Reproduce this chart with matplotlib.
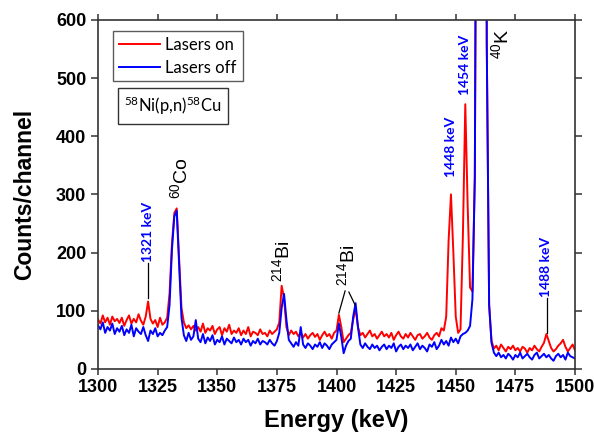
import numpy as np
import matplotlib
matplotlib.use('Agg')
import matplotlib.pyplot as plt

# energia do canal (keV), passo de 1 keV
energia = np.arange(1300, 1501)

# contagens por canal - lasers ligados
lasers_on = [
    85, 78, 92, 80, 88, 76, 90, 82, 86, 79,
    88, 74, 84, 92, 78, 86, 80, 94, 83, 76,
    90, 116, 86, 78, 84, 72, 88, 76, 80, 88,
    130, 215, 268, 276, 190, 105, 80, 70, 75, 68,
    74, 66, 72, 64, 78, 62, 70, 66, 74, 60,
    68, 72, 58, 70, 64, 76, 60, 66, 62, 70,
    58, 66, 60, 72, 56, 64, 62, 58, 68, 60,
    62, 56, 66, 60, 64, 68, 80, 143, 122, 72,
    58, 66, 60, 64, 56, 62, 54, 60, 52, 58,
    62, 55, 60, 50, 58, 64, 56, 60, 52, 62,
    66, 93, 72, 46, 52, 58, 62, 85, 104, 72,
    58, 62, 54, 60, 66, 56, 60, 52, 58, 64,
    56, 60, 54, 62, 50, 58, 64, 56, 52, 60,
    54, 62, 56, 50, 58, 60, 52, 56, 62, 54,
    50, 58, 62, 56, 70, 66, 90, 220, 300, 200,
    90, 62, 68, 230, 455, 280, 140, 133, 330, 1300,
    5000, 6000, 3000, 560, 110, 48, 35, 40, 32, 42,
    36, 30, 38, 34, 40, 32, 36, 30, 38, 35,
    28, 36, 32, 40, 34, 30, 38, 45, 60, 48,
    36, 30, 34, 40, 44, 50, 38, 30, 36, 42,
    32,
]

# contagens por canal - lasers desligados
lasers_off = [
    75, 68, 80, 62, 72, 66, 78, 60, 70, 64,
    74, 58, 68, 62, 76, 56, 70, 64, 60, 72,
    58, 48, 66, 60, 70, 56, 62, 58, 66, 72,
    110, 205, 262, 272, 180, 88, 58, 48, 62, 50,
    56, 84, 52, 46, 60, 44, 54, 48, 58, 42,
    50, 46, 56, 42, 52, 48, 44, 54, 46, 50,
    42, 52, 46, 50, 40, 48, 44, 52, 42, 48,
    46, 42, 50, 44, 40, 48, 62, 105, 129, 85,
    50, 44, 38, 46, 40, 72, 42, 36, 44, 40,
    34, 42, 38, 46, 36, 44, 40, 34, 42, 46,
    50, 78, 55, 27, 40, 48, 52, 90, 113, 72,
    42, 36, 44, 38, 34, 42, 36, 40, 32, 38,
    42, 34, 40, 36, 44, 30, 38, 42, 34, 40,
    36, 42, 32, 38, 44, 34, 40, 36, 30, 42,
    38, 46, 34, 40, 50, 42, 48, 40, 54, 46,
    52, 44, 56, 60, 62, 66, 74, 120, 330, 1300,
    5000, 6000, 3000, 560, 110, 45, 28, 22, 28, 20,
    24, 18, 26, 22, 16, 24, 20, 28, 18, 22,
    26, 20, 16, 24, 28, 18, 22, 26, 20, 24,
    18, 14, 22, 26, 20, 24, 16, 28, 22, 20,
    18,
]

# linhas marcadas em azul (energia, posicao do texto)
picos_kev = [1321, 1448, 1454, 1488]
picos_y = [235, 381, 523, 175]

plt.rcParams['font.family'] = ['Liberation Sans', 'DejaVu Sans']
plt.rcParams['mathtext.default'] = 'regular'

fig = plt.figure(figsize=(5.94, 4.32), dpi=100)
ax = fig.add_axes([0.165, 0.146, 0.803, 0.808])

ax.plot(energia, lasers_on, color='#ff0000', lw=1.4, label='Lasers on')
ax.plot(energia, lasers_off, color='#0000ff', lw=1.4, label='Lasers off')

ax.set_xlim(1300, 1500)
ax.set_ylim(0, 600)
ax.set_xticks(range(1300, 1501, 25))
ax.set_yticks(range(0, 601, 100))

for s in ax.spines.values():
    s.set_color('#333333')
    s.set_linewidth(1.2)
ax.tick_params(axis='both', direction='out', length=5, width=1.1, color='#333333',
               labelsize=13, top=True, right=True)
ax.tick_params(axis='x', which='both', top=True, length=4)
for lab in ax.get_xticklabels() + ax.get_yticklabels():
    lab.set_fontweight('bold')

ax.set_xlabel('Energy (keV)', fontsize=17, fontweight='bold', labelpad=9)
ax.set_ylabel('Counts/channel', fontsize=16.5, fontweight='bold', labelpad=14)

leg = ax.legend(loc='upper left', bbox_to_anchor=(0.031, 0.968), fancybox=False,
                edgecolor='#333333', handlelength=2.5, borderpad=0.35,
                labelspacing=0.4, handletextpad=0.3, borderaxespad=0,
                prop={'family': 'Lato', 'size': 12})
leg.get_frame().set_linewidth(1.0)

ax.text(0.157, 0.754, '$^{58}$Ni(p,n)$^{58}$Cu', transform=ax.transAxes,
        ha='center', va='center', fontsize=12, family='Lato',
        bbox=dict(boxstyle='square,pad=0.4', fc='white', ec='#333333', lw=1.0))

# rotulos das linhas em keV
for e, yy in zip(picos_kev, picos_y):
    ax.text(e, yy, f'{e} keV', rotation=90, ha='center', va='center',
            color='#0000ff', fontsize=10, fontweight='bold', family='Lato')
ax.plot([1321, 1321], [122, 182], color='black', lw=0.9)
ax.plot([1488.3, 1488.3], [62, 122], color='black', lw=0.9)

# isotopos
ax.text(1334.4, 292, '$^{60}$Co', rotation=90, ha='center', va='bottom', fontsize=14)
ax.text(1377.3, 150, '$^{214}$Bi', rotation=90, ha='center', va='bottom', fontsize=14)
ax.text(1404.3, 142, '$^{214}$Bi', rotation=90, ha='center', va='bottom', fontsize=14)
ax.text(1469.0, 533, '$^{40}$K', rotation=90, ha='center', va='bottom', fontsize=14)
ax.plot([1403.6, 1401.0], [134, 96], color='black', lw=0.9)
ax.plot([1405.2, 1407.8], [132, 110], color='black', lw=0.9)

fig.savefig('out.png', dpi=100)
